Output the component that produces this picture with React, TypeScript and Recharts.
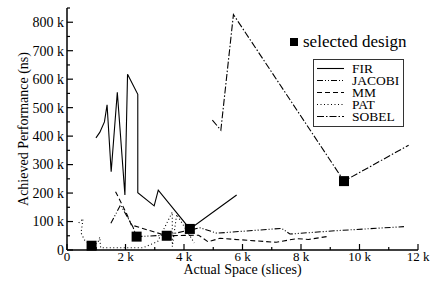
import React from 'react';
import { ComposedChart, Line, Scatter, XAxis, YAxis } from 'recharts';

const seriesNames = ['FIR', 'JACOBI', 'MM', 'PAT', 'SOBEL'];
const seriesDash = [undefined, '6 2 1 2 1 2', '5 3', '1 2.5', '7 2 1.5 2'];

// actual space (slices) / achieved performance (ns)
const firSpace = [990, 1120, 1280, 1370, 1510, 1720, 1980, 2070, 2420, 2420, 2980, 3120, 4200, 5800];
const firPerf = [394000, 413000, 450000, 510000, 275000, 554000, 193000, 617000, 547000, 201000, 155000, 210000, 74000, 193000];

const jacobiSpace = [1500, 1830, 2100, 2250, 2380, 3400, 4550, 5120, 7340, 7620, 9220, 11520];
const jacobiPerf = [94000, 158000, 110000, 82000, 47000, 52000, 78000, 59000, 76000, 56000, 68000, 82000];

const mmSpace = [1660, 2050, 2200, 3410, 4500, 4820, 5230, 7150, 7850, 8250, 8880];
const mmPerf = [205000, 125000, 88000, 50000, 52000, 29000, 41000, 27000, 40000, 37000, 47000];

const patSpace = [400, 550, 480, 600, 840, 1050, 1120, 1150, 2600, 3100, 3600, 3600, 3750, 4350];
const patPerf = [95000, 110000, 60000, 35000, 15000, 25000, 45000, 8000, 8000, 30000, 133000, 12000, 125000, 25000];

const sobelSpace = [4970, 5260, 5690, 9470, 11680];
const sobelPerf = [456000, 421000, 827000, 242000, 368000];

const selectedSpace = [4200, 2380, 3410, 840, 9470];
const selectedPerf = [74000, 47000, 50000, 15000, 242000];

const xTicks = [0, 1000, 2000, 3000, 4000, 5000, 6000, 7000, 8000, 9000, 10000, 11000, 12000];
const yTicks = [0, 50000, 100000, 150000, 200000, 250000, 300000, 350000, 400000, 450000, 500000, 550000, 600000, 650000, 700000, 750000, 800000, 850000];

const zip = (xs: number[], ys: number[]) => xs.map((x, i) => ({ x, y: ys[i] }));
const seriesData = [
  zip(firSpace, firPerf),
  zip(jacobiSpace, jacobiPerf),
  zip(mmSpace, mmPerf),
  zip(patSpace, patPerf),
  zip(sobelSpace, sobelPerf),
];
const selectedData = zip(selectedSpace, selectedPerf);

const font = "'Liberation Serif', serif";
const txt = (size: number) => ({ fontFamily: font, fontSize: size, fill: '#000' });
const fmt = (v: number) => (v === 0 ? '0' : `${v / 1000} k`);

const XTick = (props: any) => {
  const { x, y, payload } = props;
  const major = payload.value % 2000 === 0;
  return (
    <g>
      <line x1={x} x2={x} y1={y} y2={y - (major ? 6 : 3)} stroke="#000" strokeWidth={1.2} />
      {major && (
        <text x={x} y={y + 11} textAnchor="middle" style={txt(13)}>
          {fmt(payload.value)}
        </text>
      )}
    </g>
  );
};

const YTick = (props: any) => {
  const { x, y, payload } = props;
  const major = payload.value % 100000 === 0;
  return (
    <g>
      <line x1={x} x2={x + (major ? 6 : 3)} y1={y} y2={y} stroke="#000" strokeWidth={1.2} />
      {major && (
        <text x={x - 3} y={y} dy="0.35em" textAnchor="end" style={txt(14)}>
          {fmt(payload.value)}
        </text>
      )}
    </g>
  );
};

const Square = (props: any) => {
  const { cx, cy } = props;
  return <rect x={cx - 5} y={cy - 5} width={10} height={10} fill="#000" />;
};

function LegendOverlay() {
  return (
    <svg width={439} height={285} style={{ position: 'absolute', left: 0, top: 0, pointerEvents: 'none' }}>
      <rect x={290} y={38} width={8} height={8} fill="#000" />
      <text x={303} y={47} style={txt(17)}>selected design</text>
      <rect x={313.5} y={59.5} width={90} height={67} fill="#fff" stroke="#333" strokeWidth={1} />
      {seriesNames.map((name, i) => {
        const cy = 68.5 + i * 12;
        return (
          <g key={name}>
            <line x1={317} x2={344} y1={cy} y2={cy} stroke="#000" strokeWidth={1.1} strokeDasharray={seriesDash[i]} />
            <text x={352} y={cy} dy="0.35em" style={txt(13.5)}>{name}</text>
          </g>
        );
      })}
    </svg>
  );
}

export default function App() {
  return (
    <div style={{ position: 'absolute', left: 0, top: 0, width: 439, height: 285, background: '#fff' }}>
      <ComposedChart width={439} height={285} margin={{ top: 8, right: 21, bottom: 0, left: 0 }}>
        <XAxis
          type="number"
          dataKey="x"
          domain={[0, 12000]}
          ticks={xTicks}
          interval={0}
          tick={<XTick />}
          tickLine={false}
          tickSize={0}
          tickMargin={0}
          height={35}
          axisLine={{ stroke: '#000', strokeWidth: 1.5 }}
          label={{
            content: (p: any) => {
              const vb = p.viewBox;
              return (
                <text x={vb.x + vb.width / 2} y={vb.y + 24} textAnchor="middle" style={txt(14)}>
                  Actual Space (slices)
                </text>
              );
            },
          }}
        />
        <YAxis
          type="number"
          dataKey="y"
          domain={[0, 850000]}
          ticks={yTicks}
          interval={0}
          tick={<YTick />}
          tickLine={false}
          tickSize={0}
          tickMargin={0}
          width={67}
          axisLine={{ stroke: '#000', strokeWidth: 1.5 }}
          label={{
            content: (p: any) => {
              const vb = p.viewBox;
              return (
                <text
                  x={0}
                  y={0}
                  transform={`translate(${vb.x + 23}, ${vb.y + vb.height / 2}) rotate(-90)`}
                  textAnchor="middle"
                  dy="0.35em"
                  style={txt(14)}
                >
                  Achieved Performance (ns)
                </text>
              );
            },
          }}
        />
        {seriesData.map((d, i) => (
          <Line
            key={seriesNames[i]}
            data={d}
            dataKey="y"
            type="linear"
            stroke="#000"
            strokeWidth={1.1}
            strokeDasharray={seriesDash[i]}
            dot={false}
            activeDot={false}
            isAnimationActive={false}
          />
        ))}
        <Scatter data={selectedData} dataKey="y" shape={<Square />} isAnimationActive={false} />
      </ComposedChart>
      <LegendOverlay />
    </div>
  );
}
